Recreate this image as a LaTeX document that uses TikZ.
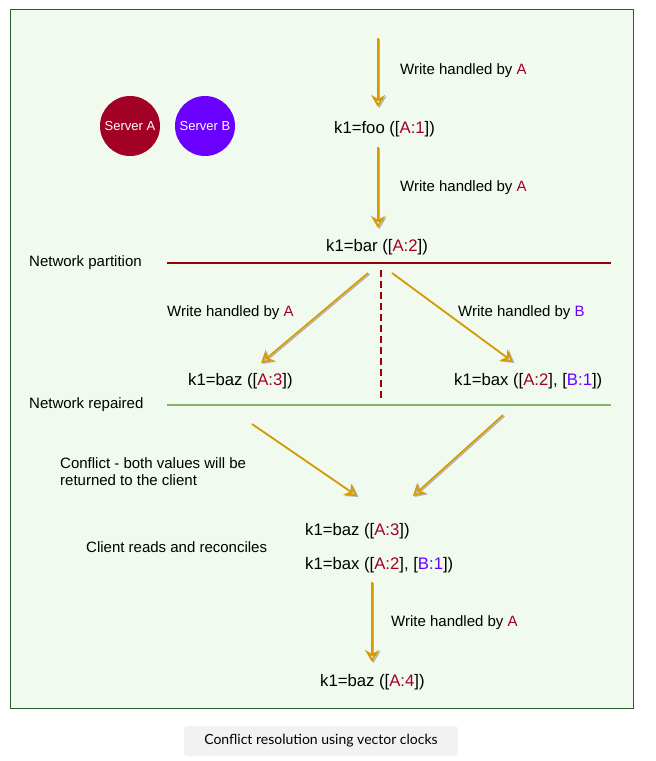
\documentclass[tikz,border=0pt]{standalone}
\usepackage{fontspec}
\setmainfont{Liberation Sans}
\newfontfamily\capfont{Lato}
\usepackage{tikz}
\usetikzlibrary{arrows.meta, positioning, calc}
\definecolor{bgmint}{HTML}{F1FAEE}
\definecolor{framegreen}{HTML}{2D5A2D}
\definecolor{srvA}{HTML}{A20025}
\definecolor{srvB}{HTML}{6A00FF}
\definecolor{arrgold}{HTML}{D79B00}
\definecolor{partred}{HTML}{990000}
\definecolor{repgreen}{HTML}{82B366}
\newcommand{\clrA}[1]{\textcolor{srvA}{#1}}
\newcommand{\clrB}[1]{\textcolor{srvB}{#1}}

\begin{document}
\begin{tikzpicture}[x=1pt, y=-1pt, font=\fontsize{15}{17}\selectfont,
  every node/.style={inner sep=0pt, anchor=west},
  kval/.style={font=\fontsize{16.7}{19}\selectfont},
  flow/.style={arrgold, line width=1.7pt, -{Stealth[open, length=12pt, width=14pt, inset=4pt]},
    preaction={draw=black!30, line width=1.4pt, transform canvas={shift={(1.5pt,-1pt)}}}},
  server/.style={circle, minimum size=60pt, text=white, anchor=center, font=\fontsize{13}{15}\selectfont}]
\useasboundingbox (0,0) rectangle (656,761);
\draw[framegreen, fill=bgmint, line width=0.8pt] (10,9) rectangle (633,708);
\node[fill=black!5, rounded corners=3pt, minimum width=274pt, minimum height=30pt, anchor=center, font=\capfont\fontsize{14}{16}\selectfont] (caption) at (321,741) {Conflict resolution using vector clocks};

% servers
\node[server, fill=srvA] (srva) at (130,126) {Server A};
\node[server, fill=srvB] (srvb) at (205,126) {Server B};

% before the partition
\coordinate (w1top) at (378,38);
\coordinate (w1end) at (378,107);
\node (lab1) at (400,70.5) {Write handled by \clrA{A}};
\node[kval] (foo) at (334,129.5) {k1=foo ([\clrA{A:1}])};
\coordinate (w2top) at (378,147);
\coordinate (w2end) at (378,228);
\node (lab2) at (400,187.5) {Write handled by \clrA{A}};
\node[kval] (bar) at (326,247.5) {k1=bar ([\clrA{A:2}])};

% partition
\node (parttxt) at (29,262.5) {Network partition};
\coordinate (partl) at (167,263);
\coordinate (partr) at (611,263);
\draw[partred, line width=2.2pt] (partl) -- (partr);
\coordinate (cuttop) at (381,270);
\coordinate (cutend) at (381,398);
\draw[partred, line width=2.8pt, dash pattern=on 7pt off 4pt] (cuttop) -- (cutend);

\coordinate (wlstart) at (368,273);
\coordinate (wlend) at (261,363);
\coordinate (wrstart) at (392,273);
\coordinate (wrend) at (513,362);
\node (lab3) at (167,312.5) {Write handled by \clrA{A}};
\node (lab4) at (458,312.5) {Write handled by \clrB{B}};
\node[kval] (baz) at (188,381.5) {k1=baz ([\clrA{A:3}])};
\node[kval] (bax) at (454,381.5) {k1=bax ([\clrA{A:2}], [\clrB{B:1}])};

% repaired
\node (reptxt) at (29,404.5) {Network repaired};
\coordinate (repl) at (167,405);
\coordinate (repr) at (611,405);
\draw[repgreen, line width=1.8pt] (repl) -- (repr);

\coordinate (mlstart) at (252,424);
\coordinate (mlend) at (357,496);
\coordinate (mrstart) at (503,415);
\coordinate (mrend) at (413,496);
\node[align=left] (conflict) at (60,471.5) {Conflict - both values will be\\returned to the client};
\node (client) at (86,547.5) {Client reads and reconciles};
\node[kval] (rdbaz) at (305,531.5) {k1=baz ([\clrA{A:3}])};
\node[kval] (rdbax) at (305,565.5) {k1=bax ([\clrA{A:2}], [\clrB{B:1}])};

\coordinate (w5top) at (372,582);
\coordinate (w5end) at (372,662);
\node (lab5) at (391,622.5) {Write handled by \clrA{A}};
\node[kval] (final) at (320,682.5) {k1=baz ([\clrA{A:4}])};

% the write arrows
\draw[flow] (w1top) -- (w1end);
\draw[flow] (w2top) -- (w2end);
\draw[flow] (wlstart) -- (wlend);
\draw[flow] (wrstart) -- (wrend);
\draw[flow] (mlstart) -- (mlend);
\draw[flow] (mrstart) -- (mrend);
\draw[flow] (w5top) -- (w5end);
\end{tikzpicture}
\end{document}
